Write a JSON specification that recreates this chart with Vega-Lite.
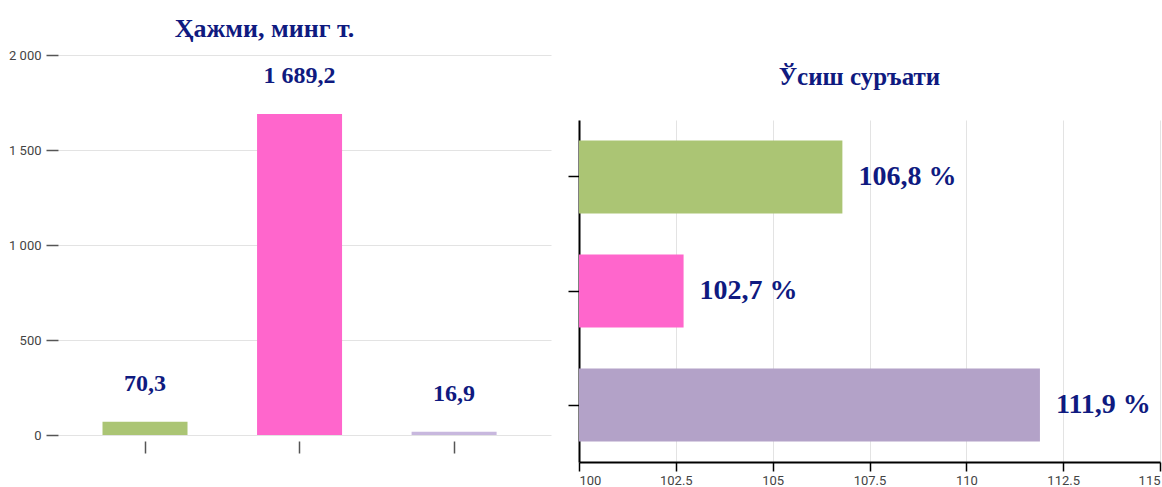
{
  "$schema": "https://vega.github.io/schema/vega-lite/v6.json",
  "padding": {"left": 8, "top": 16, "right": 2, "bottom": 2},
  "background": "white",
  "config": {"view": {"stroke": null}, "concat": {"spacing": 16}},
  "resolve": {"scale": {"color": "independent"}},
  "datasets": {
    "vol": [
      {"cat": "A", "v": 70.3},
      {"cat": "B", "v": 1689.2},
      {"cat": "C", "v": 16.9}
    ],
    "gr": [
      {"cat": "A", "r": 106.8},
      {"cat": "B", "r": 102.7},
      {"cat": "C", "r": 111.9}
    ],
    "none": []
  },
  "hconcat": [
    {
      "width": 493,
      "height": 380,
      "data": {"name": "vol"},
      "title": {"text": "Ҳажми, минг т.", "font": "Liberation Serif", "fontSize": 26, "fontWeight": "bold", "color": "#0f1a80", "anchor": "middle", "dx": -40, "offset": 7},
      "transform": [
        {"calculate": "replace(replace(format(datum.v, ',.1f'), ',', ' '), '.', ',')", "as": "lbl"}
      ],
      "encoding": {
        "x": {"field": "cat", "type": "nominal", "sort": null,
              "scale": {"paddingInner": 0.45, "paddingOuter": 0.32, "align": 0.45},
              "axis": {"title": null, "labels": false, "domain": false, "ticks": true, "tickSize": 12, "tickColor": "#555", "tickWidth": 1.5, "offset": 6, "grid": false}},
        "y": {"field": "v", "type": "quantitative",
              "scale": {"domain": [0, 2000]},
              "axis": {"title": null, "values": [0, 500, 1000, 1500, 2000], "domain": false, "tickSize": 12, "tickColor": "#555", "tickWidth": 1.5, "labelPadding": 5, "labelFont": "Roboto", "labelFontSize": 13, "labelColor": "#444", "gridColor": "#e3e3e3", "labelExpr": "replace(format(datum.value, ','), ',', ' ')"}}
      },
      "layer": [
        {"mark": {"type": "bar"},
         "encoding": {"color": {"field": "cat", "type": "nominal", "legend": null,
           "scale": {"domain": ["A", "B", "C"], "range": ["#abc574", "#ff66cc", "#c8b8de"]}}}},
        {"mark": {"type": "text", "baseline": "bottom", "dy": -26, "font": "Liberation Serif", "fontSize": 24, "fontWeight": "bold", "color": "#0f1a80"},
         "encoding": {"text": {"field": "lbl"}}}
      ]
    },
    {
      "spacing": 0,
      "vconcat": [
        {
          "width": 581,
          "height": 10,
          "data": {"name": "none"},
          "mark": "point"
        },
        {
          "width": 581,
          "height": 342,
          "data": {"name": "gr"},
          "title": {"text": "Ўсиш суръати", "font": "Liberation Serif", "fontSize": 25, "fontWeight": "bold", "color": "#0f1a80", "anchor": "middle", "dx": -10, "offset": 30},
          "transform": [
            {"calculate": "replace(format(datum.r, '.1f'), '.', ',') + ' %'", "as": "lbl"}
          ],
          "encoding": {
            "y": {"field": "cat", "type": "nominal", "sort": null,
                  "scale": {"paddingInner": 0.36, "paddingOuter": 0.18},
                  "axis": {"title": null, "labels": false, "domainColor": "#000", "domainWidth": 2, "tickColor": "#000", "tickWidth": 1.5, "tickSize": 11}},
            "x": {"field": "r", "type": "quantitative",
                  "scale": {"domain": [100, 115], "nice": false, "zero": false},
                  "axis": {"title": null, "values": [100, 102.5, 105, 107.5, 110, 112.5, 115], "format": ".1~f", "domainColor": "#000", "domainWidth": 2, "tickColor": "#000", "tickWidth": 1.5, "tickSize": 9, "labelFont": "Roboto", "labelFontSize": 13, "labelColor": "#444", "gridColor": "#e3e3e3", "labelPadding": 3}}
          },
          "layer": [
            {"mark": {"type": "bar", "clip": true},
             "encoding": {"x2": {"datum": 100},
               "color": {"field": "cat", "type": "nominal", "legend": null,
               "scale": {"domain": ["A", "B", "C"], "range": ["#abc574", "#ff66cc", "#b3a2c8"]}}}},
            {"mark": {"type": "text", "align": "left", "dx": 16, "font": "Liberation Serif", "fontSize": 28, "fontWeight": "bold", "color": "#0f1a80"},
             "encoding": {"text": {"field": "lbl"}}}
          ]
        }
      ]
    }
  ]
}
